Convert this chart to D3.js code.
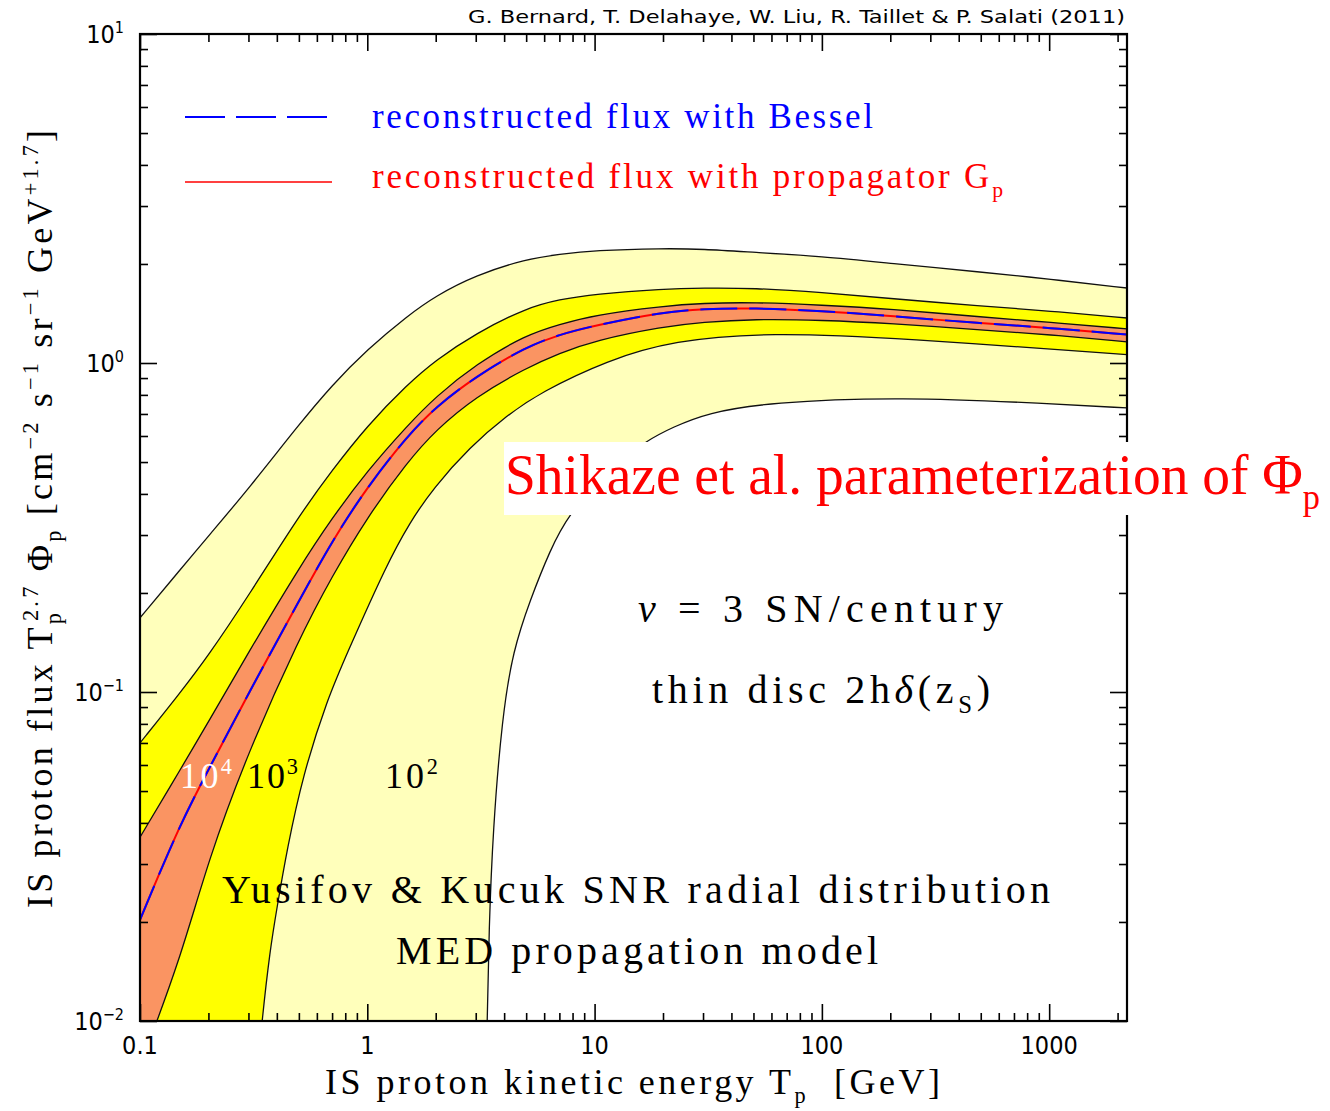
<!DOCTYPE html>
<html>
<head>
<meta charset="utf-8">
<script src="https://cdn.jsdelivr.net/npm/d3@7"></script>
<style>
  body { margin: 0; background: #fff; }
  text { white-space: pre; }
</style>
</head>
<body>
<div id="chart"></div>
<script>
// kinetic energy grid (GeV) shared by the upper curves, the median and the 10^4 lower curve
var energy = [0.1, 0.15, 0.2, 0.3, 0.5, 0.7, 1, 1.5, 2, 3, 5, 7, 10, 20, 30, 50, 100, 200, 500, 1000, 2200];

// T^2.7 * flux
var upper100   = [0.168, 0.235, 0.298, 0.414, 0.65, 0.857, 1.10, 1.39, 1.60, 1.85, 2.07, 2.14, 2.20, 2.23, 2.22, 2.17, 2.11, 2.01, 1.89, 1.80, 1.69];
var upper1000  = [0.070, 0.0993, 0.129, 0.196, 0.343, 0.472, 0.645, 0.86, 1.02, 1.23, 1.47, 1.56, 1.62, 1.68, 1.69, 1.69, 1.64, 1.57, 1.49, 1.44, 1.37];
var upper10000 = [0.0362, 0.0579, 0.0811, 0.132, 0.238, 0.338, 0.47, 0.645, 0.79, 0.99, 1.22, 1.31, 1.40, 1.49, 1.52, 1.53, 1.50, 1.46, 1.38, 1.33, 1.27];
var median     = [0.0203, 0.0397, 0.058, 0.099, 0.189, 0.288, 0.42, 0.60, 0.735, 0.91, 1.12, 1.22, 1.30, 1.43, 1.46, 1.47, 1.44, 1.39, 1.32, 1.28, 1.22];
var lower10000 = [0.0073, 0.0153, 0.031, 0.066, 0.145, 0.225, 0.34, 0.50, 0.625, 0.79, 0.966, 1.07, 1.17, 1.29, 1.33, 1.36, 1.35, 1.32, 1.26, 1.22, 1.16];

// the two outer lower curves leave the plot through the bottom axis
var lower1000Energy = [0.33, 0.344, 0.373, 0.401, 0.443, 0.521, 0.665, 0.814, 1.22, 1.54, 1.95, 2.83, 4.12, 5.75, 11.4, 22.1, 59, 221, 2200];
var lower1000       = [0.0072, 0.0100, 0.0164, 0.0222, 0.0331, 0.056, 0.0946, 0.131, 0.245, 0.328, 0.416, 0.556, 0.693, 0.813, 1.02, 1.17, 1.24, 1.19, 1.06];
var lower100Energy  = [3.33, 3.37, 3.43, 3.57, 3.92, 4.38, 5.20, 6.37, 7.64, 11.4, 17.0, 22.1, 31.2, 59, 221, 1000, 2200];
var lower100        = [0.0066, 0.0100, 0.0189, 0.0381, 0.0839, 0.134, 0.190, 0.270, 0.345, 0.473, 0.583, 0.638, 0.705, 0.760, 0.789, 0.753, 0.730];

var xMajor = [0.1, 1, 10, 100, 1000];
var xMajorLabels = ["0.1", "1", "10", "100", "1000"];
var yMajor = [0.01, 0.1, 1, 10];
var yMajorExp = ["\u22122", "\u22121", "0", "1"];

var W = 1330, H = 1111;
var plot = { left: 140, right: 1127, top: 34, bottom: 1021 };
var sans = "'Liberation Sans Narrow', 'DejaVu Sans Condensed', 'Liberation Sans', sans-serif";

var svg = d3.select("#chart").append("svg")
    .attr("width", W)
    .attr("height", H)
    .style("font-family", "'Liberation Serif', 'DejaVu Serif', serif");

var x = d3.scaleLog().domain([0.1, 2200]).range([plot.left, plot.right]);
var y = d3.scaleLog().domain([0.01, 10]).range([plot.bottom, plot.top]);

function pairs(es, vs) { return es.map(function (e, i) { return [e, vs[i]]; }); }

var curves = {
    u100: pairs(energy, upper100),
    u1000: pairs(energy, upper1000),
    u10000: pairs(energy, upper10000),
    med: pairs(energy, median),
    l10000: pairs(energy, lower10000),
    l1000: pairs(lower1000Energy, lower1000),
    l100: pairs(lower100Energy, lower100)
};

var line = d3.line()
    .x(function (d) { return x(d[0]); })
    .y(function (d) { return y(d[1]); })
    .curve(d3.curveBasis);

svg.append("clipPath").attr("id", "clip")
    .append("rect")
    .attr("x", plot.left).attr("y", plot.top)
    .attr("width", plot.right - plot.left).attr("height", plot.bottom - plot.top);

var bands = svg.append("g").attr("clip-path", "url(#clip)");

// closed band: upper curve left to right, lower curve back, then down below the axis and back to the left edge
function bandPath(up, lo) {
    var a = line(up);
    var b = line(lo.slice().reverse());
    var floorY = plot.bottom + 200;
    return a + "L" + b.slice(1) + "L" + x(lo[0][0]) + "," + floorY + "L" + x(0.1) + "," + floorY + "Z";
}

bands.append("path").attr("d", bandPath(curves.u100, curves.l100)).attr("fill", "#ffffbb");
bands.append("path").attr("d", bandPath(curves.u1000, curves.l1000)).attr("fill", "#ffff00");
bands.append("path").attr("d", bandPath(curves.u10000, curves.l10000)).attr("fill", "#fa9462");

["u100", "u1000", "u10000", "l10000", "l1000", "l100"].forEach(function (k) {
    bands.append("path").attr("d", line(curves[k]))
        .attr("fill", "none").attr("stroke", "#111").attr("stroke-width", 1.3);
});

bands.append("path").attr("d", line(curves.med))
    .attr("fill", "none").attr("stroke", "#ff0000").attr("stroke-width", 2);
bands.append("path").attr("d", line(curves.med))
    .attr("fill", "none").attr("stroke", "#0000ff").attr("stroke-width", 2)
    .attr("stroke-dasharray", "37,12");

// ticks on all four sides, pointing inward
var xMinor = [], yMinor = [];
xMajor.forEach(function (d) {
    for (var k = 2; k <= 9; k++) if (d * k <= 2200) xMinor.push(d * k);
});
[0.01, 0.1, 1].forEach(function (d) {
    for (var k = 2; k <= 9; k++) yMinor.push(d * k);
});

function ticks(axis, values, size, tx, ty) {
    var g = svg.append("g")
        .attr("transform", "translate(" + tx + "," + ty + ")")
        .call(axis.tickValues(values).tickSize(-size).tickFormat(""));
    g.select(".domain").remove();
    g.selectAll("line").attr("stroke", "#000").attr("stroke-width", 1.6);
}
ticks(d3.axisBottom(x), xMajor, 17, 0, plot.bottom);
ticks(d3.axisBottom(x), xMinor, 8, 0, plot.bottom);
ticks(d3.axisTop(x), xMajor, 17, 0, plot.top);
ticks(d3.axisTop(x), xMinor, 8, 0, plot.top);
ticks(d3.axisLeft(y), yMajor, 17, plot.left, 0);
ticks(d3.axisLeft(y), yMinor, 8, plot.left, 0);
ticks(d3.axisRight(y), yMajor, 17, plot.right, 0);
ticks(d3.axisRight(y), yMinor, 8, plot.right, 0);

svg.append("rect")
    .attr("x", plot.left).attr("y", plot.top)
    .attr("width", plot.right - plot.left).attr("height", plot.bottom - plot.top)
    .attr("fill", "none").attr("stroke", "#000").attr("stroke-width", 2.2);

// tick labels
svg.selectAll(".xlab").data(xMajor).enter().append("text")
    .attr("x", function (d) { return x(d); })
    .attr("y", 1054)
    .attr("text-anchor", "middle")
    .style("font-family", sans)
    .attr("font-size", 25)
    .text(function (d, i) { return xMajorLabels[i]; });

var ylab = svg.selectAll(".ylab").data(yMajor).enter().append("text")
    .attr("x", 124)
    .attr("y", function (d) { return y(d) + 9; })
    .attr("text-anchor", "end")
    .style("font-family", sans)
    .attr("font-size", 25);
ylab.append("tspan").text("10");
ylab.append("tspan").attr("dy", -10).attr("font-size", 16).text(function (d, i) { return yMajorExp[i]; });

// mixed text with sub/superscripts: parts = [text, "sub"|"sup"|"", dx, italic]
function rich(px, py, parts, size, color, len, anchor) {
    var t = svg.append("text")
        .attr("x", px).attr("y", py)
        .attr("font-size", size)
        .attr("fill", color)
        .attr("text-anchor", anchor || "start");
    var shift = 0;
    parts.forEach(function (p) {
        var target = p[1] === "sub" ? size * 0.25 : p[1] === "sup" ? -size * 0.38 : 0;
        var s = t.append("tspan").text(p[0]).attr("dy", target - shift);
        if (p[1]) s.attr("font-size", size * 0.62);
        if (p[2]) s.attr("dx", p[2]);
        if (p[3]) s.attr("font-style", "italic");
        shift = target;
    });
    if (len) {
        var natural = t.node().getComputedTextLength();
        t.attr("textLength", len).attr("lengthAdjust", natural > len ? "spacingAndGlyphs" : "spacing");
    }
    return t;
}

// author line
svg.append("text")
    .attr("x", 1125).attr("y", 23)
    .attr("text-anchor", "end")
    .style("font-family", sans)
    .attr("font-size", 17)
    .attr("textLength", 657).attr("lengthAdjust", "spacingAndGlyphs")
    .text("G. Bernard, T. Delahaye, W. Liu, R. Taillet & P. Salati (2011)");

// legend
svg.append("line").attr("x1", 185).attr("x2", 327).attr("y1", 117).attr("y2", 117)
    .attr("stroke", "#0000ff").attr("stroke-width", 2).attr("stroke-dasharray", "40,11");
svg.append("line").attr("x1", 185).attr("x2", 332).attr("y1", 182).attr("y2", 182)
    .attr("stroke", "#ff4040").attr("stroke-width", 2);
rich(372, 128, [["reconstructed flux with Bessel"]], 35, "#0000ff", 501);
rich(372, 188, [["reconstructed flux with propagator G"], ["p", "sub"]], 35, "#ff0000", 631);

// white label box
svg.append("rect").attr("x", 504).attr("y", 442).attr("width", 640).attr("height", 73).attr("fill", "#fff");
rich(505, 494, [["Shikaze et al. parameterization of \u03a6"], ["p", "sub"]], 58, "#ff0000", 815);

rich(638, 622, [["\u03bd", "", 0, true], [" = 3 SN/century"]], 40, "#000", 365);
rich(652, 703, [["thin disc 2h"], ["\u03b4", "", 0, true], ["(z"], ["S", "sub"], [")"]], 40, "#000", 338);
rich(222, 903, [["Yusifov & Kucuk SNR radial distribution"]], 40, "#000", 828);
rich(396, 964, [["MED propagation model"]], 40, "#000", 482);

rich(180, 788, [["10"], ["4", "sup"]], 36, "#fff", 52);
rich(247, 788, [["10"], ["3", "sup"]], 36, "#000", 51);
rich(385, 788, [["10"], ["2", "sup"]], 36, "#000", 53);

// axis titles
rich(325, 1094, [["IS proton kinetic energy T"], ["p", "sub"], ["  [GeV]"]], 36, "#000", 615);

var yt = rich(0, 0, [["IS proton flux T"], ["p", "sub"], ["2.7", "sup", -11], [" \u03a6"], ["p", "sub"],
    [" [cm"], ["\u22122", "sup"], [" s"], ["\u22121", "sup"], [" sr"], ["\u22121", "sup"], [" GeV"], ["+1.7", "sup"], ["]"]],
    36, "#000", 778);
yt.attr("transform", "translate(52,908) rotate(-90)");
</script>
</body>
</html>
